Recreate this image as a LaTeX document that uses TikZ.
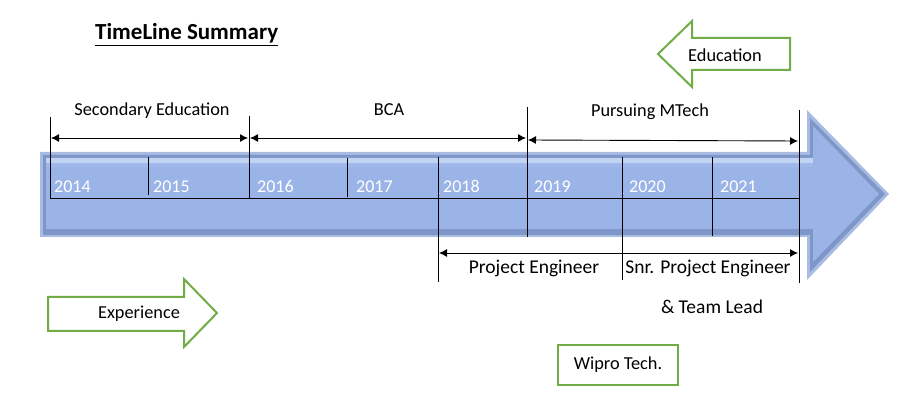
\documentclass[tikz,border=0pt]{standalone}
\usepackage{fontspec}
\setmainfont{Carlito}
\usetikzlibrary{arrows.meta}
\definecolor{barfill}{HTML}{9BB4E8}
\definecolor{baredge}{HTML}{7F97C8}
\definecolor{barlight}{HTML}{C3D3F4}
\definecolor{boxgreen}{HTML}{70AD47}

\begin{document}
\begin{tikzpicture}[x=1pt,y=-1pt,
  yearlabel/.style={anchor=base west,inner sep=0pt,text=white,font=\fontsize{18}{21}\selectfont},
  spanlabel/.style={anchor=base,inner sep=0pt,font=\fontsize{18.3}{22}\selectfont},
  joblabel/.style={anchor=base,inner sep=0pt,font=\fontsize{19.5}{23}\selectfont},
  tickline/.style={line width=0.9pt},
  spanarrow/.style={line width=0.9pt,{Latex[length=8pt,width=8pt]}-{Latex[length=8pt,width=8pt]}},
  greenshape/.style={draw=boxgreen,line width=2pt,fill=white}]
\path[use as bounding box] (0,0) rectangle (921,403);
\node[anchor=base west,inner sep=0pt,font=\fontsize{23}{27}\selectfont\bfseries] (title) at (95,40) {\underline{TimeLine Summary}};
% big timeline arrow
\fill[barlight!60!baredge] (40,152) -- (807,152) -- (807,110) -- (889,194) -- (807,280) -- (807,237) -- (40,237) -- cycle;
\fill[baredge] (43,155) -- (810,155) -- (810,118) -- (885,194) -- (810,272) -- (810,235) -- (43,235) -- cycle;
\fill[barfill] (46,158) -- (813,158) -- (813,126) -- (879,194) -- (813,262) -- (813,229) -- (46,229) -- cycle;
\fill[barlight] (46,158) rectangle (813,163);
\fill[barfill!85!barlight] (46,163) rectangle (813,167);
% ticks
\foreach \x/\t/\b [count=\i] in {50/117/198, 148/157/195, 249/116/198, 347/158/197, 438/157/282,
    527/107/237, 622/157/280, 712/157/236, 799/110/283} {
  \coordinate (k\i t) at (\x,\t);
  \coordinate (k\i b) at (\x,\b);
  \draw[tickline] (k\i t) -- (k\i b);
}
\coordinate (axis-l) at (50,198);
\coordinate (axis-r) at (799,198);
\draw[tickline] (axis-l) -- (axis-r);
% years
\node[yearlabel] (y2014) at (54,193) {2014};
\node[yearlabel] (y2015) at (153,193) {2015};
\node[yearlabel] (y2016) at (257,193) {2016};
\node[yearlabel] (y2017) at (356,193) {2017};
\node[yearlabel] (y2018) at (443,193) {2018};
\node[yearlabel] (y2019) at (534,193) {2019};
\node[yearlabel] (y2020) at (629,193) {2020};
\node[yearlabel] (y2021) at (720,193) {2021};
% education spans
\coordinate (se-l) at (51,138);
\coordinate (se-r) at (248,138);
\coordinate (bca-l) at (250,138);
\coordinate (bca-r) at (526,138);
\coordinate (mt-l) at (528,140);
\coordinate (mt-r) at (798,141);
\draw[spanarrow] (se-l) -- (se-r);
\draw[spanarrow] (bca-l) -- (bca-r);
\draw[spanarrow] (mt-l) -- (mt-r);
\node[spanlabel] (secondary) at (152,116) {Secondary Education};
\node[spanlabel] (bca) at (389,116) {BCA};
\node[spanlabel] (mtech) at (650,117) {Pursuing MTech};
% experience span
\coordinate (pe-l) at (439,253);
\coordinate (pe-r) at (798,253);
\draw[spanarrow] (pe-l) -- (pe-r);
\node[joblabel] (projeng) at (534,274) {Project Engineer};
\node[joblabel] (snreng) at (708,274) {Snr. Project Engineer};
\node[joblabel] (teamlead) at (712,313) {\& Team Lead};
% legend arrows
\draw[greenshape] (790,38) -- (692,38) -- (692,21) -- (658,54) -- (692,87) -- (692,70) -- (790,70) -- cycle;
\node[spanlabel] (edu) at (725,62) {Education};
\draw[greenshape] (48,297) -- (184,297) -- (184,279) -- (217,313) -- (184,347) -- (184,331) -- (48,331) -- cycle;
\node[spanlabel] (exp) at (139,319) {Experience};
\node[greenshape,minimum width=120pt,minimum height=40pt,inner sep=0pt,font=\fontsize{18.3}{22}\selectfont] (wipro) at (618,365) {Wipro Tech.};
\end{tikzpicture}
\end{document}
